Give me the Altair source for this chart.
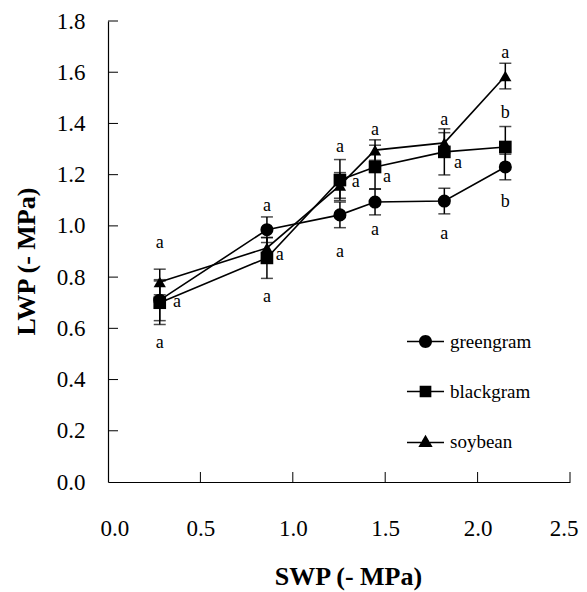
import altair as alt
import pandas as pd

# ---- data ----
swp = [0.28, 0.86, 1.255, 1.445, 1.82, 2.15]
series_names = ["greengram", "blackgram", "soybean"]

greengram = [0.71, 0.985, 1.043, 1.093, 1.097, 1.23]
greengram_err = [0.08, 0.05, 0.05, 0.05, 0.05, 0.05]
blackgram = [0.70, 0.875, 1.179, 1.23, 1.289, 1.308]
blackgram_err = [0.085, 0.08, 0.08, 0.085, 0.09, 0.08]
soybean = [0.781, 0.914, 1.158, 1.296, 1.324, 1.585]
soybean_err = [0.05, 0.04, 0.05, 0.04, 0.04, 0.05]

# significance letters (label, x, y in data units)
letter_text = ["a", "a", "a", "a", "a", "a",
               "a", "a", "a", "a", "a", "b",
               "a", "a", "a", "a", "a", "b"]
letter_x = [0.28, 0.86, 1.255, 1.445, 1.82, 2.15,
            0.373, 0.93, 1.34, 1.51, 1.894, 2.15,
            0.28, 0.86, 1.255, 1.445, 1.82, 2.15]
letter_y = [0.933, 1.078, 1.308, 1.374, 1.413, 1.675,
            0.703, 0.886, 1.171, 1.191, 1.246, 1.44,
            0.543, 0.722, 0.898, 0.984, 0.968, 1.093]

y_tick_values = [0.0, 0.2, 0.4, 0.6, 0.8, 1.0, 1.2, 1.4, 1.6, 1.8]
x_tick_values = [0.0, 0.5, 1.0, 1.5, 2.0, 2.5]

# ---- tables ----
rows = []
for name, vals, errs in [("greengram", greengram, greengram_err),
                         ("blackgram", blackgram, blackgram_err),
                         ("soybean", soybean, soybean_err)]:
    for i, (xv, yv, ev) in enumerate(zip(swp, vals, errs)):
        rows.append({"series": name, "x": xv, "y": yv, "lo": yv - ev, "hi": yv + ev, "order": i})
df = pd.DataFrame(rows)
letters = pd.DataFrame({"t": letter_text, "x": letter_x, "y": letter_y})
yticks = pd.DataFrame({"v": y_tick_values[1:]})
xticks = pd.DataFrame({"v": x_tick_values[1:]})

W, H = 462, 461
FONT = "Liberation Serif"

xscale = alt.Scale(domain=[0, 2.5], nice=False, zero=False)
yscale = alt.Scale(domain=[0, 1.8], nice=False, zero=False)

xenc = alt.X("x:Q", scale=xscale, axis=alt.Axis(
    title="SWP (- MPa)", values=x_tick_values, format=".1f", tickSize=0,
    labelFlush=True, labelFlushOffset=8, labelOverlap=False,
    labelFont=FONT, labelFontSize=23, labelColor="black",
    titleFont=FONT, titleFontSize=26, titleFontWeight="bold", titleColor="black",
    labelPadding=35, titleX=240, titleY=102, titleBaseline="alphabetic",
    titleAnchor="start", titleAlign="center"))
yenc = alt.Y("y:Q", scale=yscale, axis=alt.Axis(
    title="LWP (- MPa)", values=y_tick_values, format=".1f", tickSize=0,
    labelFlush=False, labelOverlap=False,
    labelFont=FONT, labelFontSize=23, labelColor="black",
    titleFont=FONT, titleFontSize=26, titleFontWeight="bold", titleColor="black",
    labelPadding=23, titleX=-74, titleY=240, titleBaseline="alphabetic",
    titleAngle=-90, titleAlign="center"))

base = alt.Chart(df)

lines = base.mark_line(color="black", strokeWidth=1.6).encode(
    x=xenc, y=yenc, detail="series:N", order="order:Q")

err = base.mark_errorbar(
    color="black",
    ticks={"size": 12, "thickness": 1.5, "color": "black"},
    rule={"strokeWidth": 1.5, "color": "black"},
).encode(
    x=alt.X("x:Q", scale=xscale),
    y=alt.Y("lo:Q", scale=yscale, title=""),
    y2="hi:Q",
    detail="series:N",
)

points = base.mark_point(filled=True, color="black", opacity=1).encode(
    x=alt.X("x:Q", scale=xscale),
    y=alt.Y("y:Q", scale=yscale),
    shape=alt.Shape("series:N", scale=alt.Scale(domain=series_names,
                    range=["circle", "square", "triangle-up"]), legend=None),
    size=alt.Size("series:N", scale=alt.Scale(domain=series_names,
                  range=[170, 150, 200]), legend=None),
)

# legend symbols: marker plus thin filled bars on either side (line through marker)
legend_paths = [
    "M-2.85,-0.12H-0.95V0.12H-2.85Z M0.95,-0.12H2.85V0.12H0.95Z"
    " M-1,0A1,1 0 1,1 1,0A1,1 0 1,1 -1,0Z",
    "M-2.85,-0.12H-0.85V0.12H-2.85Z M0.85,-0.12H2.85V0.12H0.85Z"
    " M-0.9,-0.9H0.9V0.9H-0.9Z",
    "M-2.85,0.03H-0.68V0.27H-2.85Z M0.68,0.03H2.85V0.27H0.68Z"
    " M0,-1.05L1.1,0.85H-1.1Z",
]
legend_layer = base.transform_filter("false").mark_point(
    filled=True, color="black", opacity=1
).encode(
    x=alt.X("x:Q", scale=xscale),
    y=alt.Y("y:Q", scale=yscale),
    shape=alt.Shape("series:N", scale=alt.Scale(domain=series_names, range=legend_paths),
                    legend=alt.Legend(
                        title=None, orient="none", legendX=308, legendY=311,
                        symbolSize=169, symbolFillColor="black", symbolStrokeWidth=0,
                        labelFont=FONT, labelFontSize=19, labelColor="black",
                        labelOffset=15, rowPadding=30, symbolOpacity=1)),
)

txt = alt.Chart(letters).mark_text(font=FONT, fontSize=18, color="black",
                                   align="center", baseline="middle").encode(
    x=alt.X("x:Q", scale=xscale), y=alt.Y("y:Q", scale=yscale), text="t:N")

ytick_rules = alt.Chart(yticks).mark_rule(color="black", strokeWidth=1).encode(
    y=alt.Y("v:Q", scale=yscale), x=alt.value(0), x2=alt.value(10))
xtick_rules = alt.Chart(xticks).mark_rule(color="black", strokeWidth=1).encode(
    x=alt.X("v:Q", scale=xscale), y=alt.value(H), y2=alt.value(H - 10))

chart = alt.layer(lines, err, points, legend_layer, txt, ytick_rules, xtick_rules).resolve_scale(
    shape="independent", size="independent"
).properties(
    width=W, height=H,
    autosize=alt.AutoSizeParams(type="none"),
    padding={"left": 100, "top": 13, "right": 9, "bottom": 110},
    background="white",
).configure_view(stroke=None).configure_axis(
    grid=False, domainColor="black", domainWidth=1.2,
    labelFont=FONT, labelFontSize=23, labelColor="black",
    titleFont=FONT, titleFontSize=26, titleFontWeight="bold", titleColor="black",
).configure_legend(labelFont=FONT).configure_text(font=FONT)

chart.save("out.html", embed_options={"renderer": "svg", "actions": False})
